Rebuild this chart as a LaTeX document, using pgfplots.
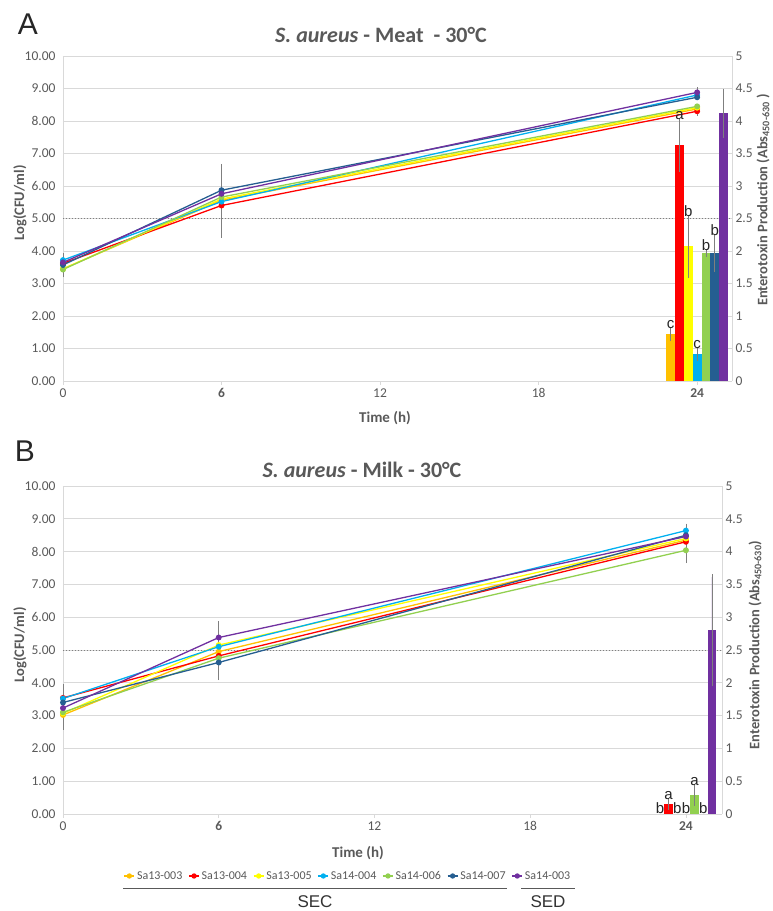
\documentclass[border=0pt]{standalone}
\usepackage{pgfplots}
\pgfplotsset{compat=1.18}
\usepackage{fontspec}
\setmainfont{Carlito}
\newfontfamily\arialfont{Liberation Sans}

\definecolor{cOra}{HTML}{FFC000}
\definecolor{cRed}{HTML}{FF0000}
\definecolor{cYel}{HTML}{FFFF00}
\definecolor{cCya}{HTML}{00B0F0}
\definecolor{cGre}{HTML}{92D050}
\definecolor{cDbl}{HTML}{255E91}
\definecolor{cPur}{HTML}{7030A0}
\definecolor{txt}{HTML}{595959}
\definecolor{grd}{HTML}{D9D9D9}
\definecolor{ebar}{HTML}{7F7F7F}

\pgfplotsset{
  leftax/.style={
    scale only axis, anchor=south west, clip=false,
    xmin=0, ymin=0, ymax=10,
    axis x line*=bottom, axis y line*=left,
    axis line style={grd, line width=0.8pt},
    xtick={0,6,12,18,24},
    xticklabels={0,\textbf{6},12,18,\textbf{24}},
    ytick={0,1,...,10},
    ymajorgrids, major grid style={grd, line width=0.8pt},
    tick align=outside, major tick length=4pt,
    xtick style={grd, line width=0.8pt},
    ytick style={draw=none},
    tick label style={font=\fontsize{13.5}{16}\selectfont, text=txt},
    yticklabel style={/pgf/number format/.cd, fixed, fixed zerofill, precision=2, assume math mode=true},
  },
  rightax/.style={
    scale only axis, anchor=south west, clip=false,
    xmin=0, ymin=0, ymax=5,
    axis y line*=right, axis x line=none,
    axis line style={grd, line width=0.8pt},
    ytick={0,0.5,...,5},
    ytick style={draw=none},
    tick label style={font=\fontsize{13.5}{16}\selectfont, text=txt},
    yticklabel style={/pgf/number format/.cd, fixed, precision=1, assume math mode=true},
  },
  ln/.style={color=#1, line width=1.3pt, mark=*, mark size=2.3pt, mark options={solid, fill=#1}},
  errb/.style={forget plot, only marks, mark=*, mark size=0pt, mark options={draw=none, fill=none},
    error bars/.cd, y dir=both, y explicit,
    error bar style={draw=ebar, line width=0.7pt},
    error mark options={draw=ebar, line width=0.7pt, mark size=3pt}},
  br/.style={forget plot, ybar, bar width=0.333, bar shift=0pt, fill=#1, draw=none,
    error bars/.cd, y dir=both, y explicit,
    error bar style={draw=ebar, line width=0.7pt},
    error mark options={draw=ebar, line width=0.7pt, mark size=3pt}},
  lett/.style={forget plot, only marks, mark=*, mark size=0pt, mark options={draw=none, fill=none},
    nodes near coords, point meta=explicit symbolic,
    every node near coord/.append style={font=\arialfont\fontsize{15}{15}\selectfont, text=black!85, anchor=south, inner sep=1pt}},
}

\begin{document}
\begin{tikzpicture}[x=1pt,y=1pt]
\path[use as bounding box] (0,0) rectangle (772,911);

% ---------- A : meat ----------
\begin{axis}[leftax, at={(63pt,530pt)}, width=669pt, height=325pt, xmax=25.32]
\addplot[forget plot, color=ebar, line width=0.8pt, dash pattern=on 1pt off 2pt] coordinates {(0,5) (25.32,5)};
\addplot[ln=cOra] coordinates {(0,3.45) (6,5.56) (24,8.37)};
\addplot[ln=cRed] coordinates {(0,3.62) (6,5.40) (24,8.30)};
\addplot[ln=cYel] coordinates {(0,3.45) (6,5.60) (24,8.41)};
\addplot[ln=cCya] coordinates {(0,3.72) (6,5.52) (24,8.80)};
\addplot[ln=cGre] coordinates {(0,3.43) (6,5.66) (24,8.45)};
\addplot[ln=cDbl] coordinates {(0,3.57) (6,5.87) (24,8.73)};
\addplot[ln=cPur] coordinates {(0,3.65) (6,5.76) (24,8.88)};
\addplot[errb] coordinates {(0,3.72) +- (0,0.12) (0,3.43) +- (0,0.14) (6,5.87) +- (0,0.72) (6,5.40) +- (0,0.90) (24,8.88) +- (0,0.06) (24,8.30) +- (0,0.06)};
\end{axis}
\begin{axis}[rightax, at={(63pt,530pt)}, width=669pt, height=325pt, xmax=25.32]
\addplot[br=cOra] coordinates {(23,0.72) +- (0,0.06)};
\addplot[br=cRed] coordinates {(23.333,3.63) +- (0,0.37)};
\addplot[br=cYel] coordinates {(23.667,2.07) +- (0,0.44)};
\addplot[br=cCya] coordinates {(24,0.42) +- (0,0.06)};
\addplot[br=cGre] coordinates {(24.333,1.97) +- (0,0.01)};
\addplot[br=cDbl] coordinates {(24.667,1.97) +- (0,0.25)};
\addplot[br=cPur] coordinates {(25,4.12) +- (0,0.33)};
\addplot[lett] coordinates {(23,0.78) [c] (23.333,4.0) [a] (23.667,2.51) [b] (24,0.48) [c] (24.333,1.98) [b] (24.667,2.22) [b]};
\end{axis}

% ---------- B : milk ----------
\begin{axis}[leftax, at={(63pt,97pt)}, width=659pt, height=328pt, xmax=25.39,
  legend entries={Sa13-003,Sa13-004,Sa13-005,Sa14-004,Sa14-006,Sa14-007,Sa14-003},
  legend columns=7,
  legend style={at={(0.4325,-0.189)}, anchor=center, draw=none, fill=none,
    font=\fontsize{12}{14}\selectfont, text=txt, inner sep=0pt,
    /tikz/every even column/.append style={column sep=4pt}},
  legend image code/.code={\draw[mark repeat=2, mark phase=2, line width=1.3pt, mark size=2pt] plot coordinates {(0pt,0pt) (5pt,0pt) (10pt,0pt)};},
]
\addplot[forget plot, color=ebar, line width=0.8pt, dash pattern=on 1pt off 2pt] coordinates {(0,5) (25.39,5)};
\addplot[ln=cOra] coordinates {(0,3.02) (6,4.95) (24,8.35)};
\addplot[ln=cRed] coordinates {(0,3.54) (6,4.82) (24,8.30)};
\addplot[ln=cYel] coordinates {(0,3.07) (6,5.15) (24,8.40)};
\addplot[ln=cCya] coordinates {(0,3.52) (6,5.10) (24,8.64)};
\addplot[ln=cGre] coordinates {(0,3.10) (6,4.75) (24,8.04)};
\addplot[ln=cDbl] coordinates {(0,3.40) (6,4.62) (24,8.50)};
\addplot[ln=cPur] coordinates {(0,3.23) (6,5.38) (24,8.46)};
\addplot[errb] coordinates {(0,3.54) +- (0,0.33) (0,3.02) +- (0,0.36) (6,5.38) +- (0,0.40) (6,4.62) +- (0,0.45) (24,8.64) +- (0,0.12) (24,8.04) +- (0,0.30)};
\end{axis}
\begin{axis}[rightax, at={(63pt,97pt)}, width=659pt, height=328pt, xmax=25.39]
\addplot[br=cRed] coordinates {(23.333,0.15) +- (0,0.05)};
\addplot[br=cGre] coordinates {(24.333,0.29) +- (0,0.12)};
\addplot[br=cPur] coordinates {(25,2.80) +- (0,0.81)};
\addplot[lett, every node near coord/.append style={inner sep=0.5pt}] coordinates {(23,0) [b] (23.333,0.21) [a] (23.667,0) [b] (24,0) [b] (24.333,0.42) [a] (24.667,0) [b]};
\end{axis}

% ---------- texts ----------
\node[font=\arialfont\fontsize{30}{30}\selectfont, text=black!85] at (28,887) {A};
\node[font=\arialfont\fontsize{30}{30}\selectfont, text=black!85] at (25,460) {B};
\node[anchor=base, font=\bfseries\fontsize{22}{24}\selectfont, text=txt] at (381,868) {\textit{S. aureus} - Meat\ \ - 30°C};
\node[anchor=base, font=\bfseries\fontsize{22}{24}\selectfont, text=txt] at (362,433) {\textit{S. aureus} - Milk - 30°C};
\node[anchor=base, font=\bfseries\fontsize{15}{17}\selectfont, text=txt] at (385,488) {Time (h)};
\node[anchor=base, font=\bfseries\fontsize{15}{17}\selectfont, text=txt] at (358,53) {Time (h)};
\node[rotate=90, font=\bfseries\fontsize{14.5}{16}\selectfont, text=txt] at (20,708) {Log(CFU/ml)};
\node[rotate=90, font=\bfseries\fontsize{14.5}{16}\selectfont, text=txt] at (20,266) {Log(CFU/ml)};
\node[rotate=90, inner sep=0pt, font=\bfseries\fontsize{14.5}{16}\selectfont, text=txt] at (763,711) {Enterotoxin Production (Abs\textsubscript{450-630} )};
\node[rotate=90, inner sep=0pt, font=\bfseries\fontsize{14.5}{16}\selectfont, text=txt] at (755,266) {Enterotoxin Production (Abs\textsubscript{450-630})};
\draw[txt, line width=0.9pt] (123,23) -- (507,23);
\draw[txt, line width=0.9pt] (521,23) -- (575,23);
\node[anchor=base, inner sep=0pt, font=\arialfont\fontsize{17}{17}\selectfont, text=black!80] at (315,3) {SEC};
\node[anchor=base, inner sep=0pt, font=\arialfont\fontsize{17}{17}\selectfont, text=black!80] at (548,3) {SED};
\end{tikzpicture}
\end{document}
